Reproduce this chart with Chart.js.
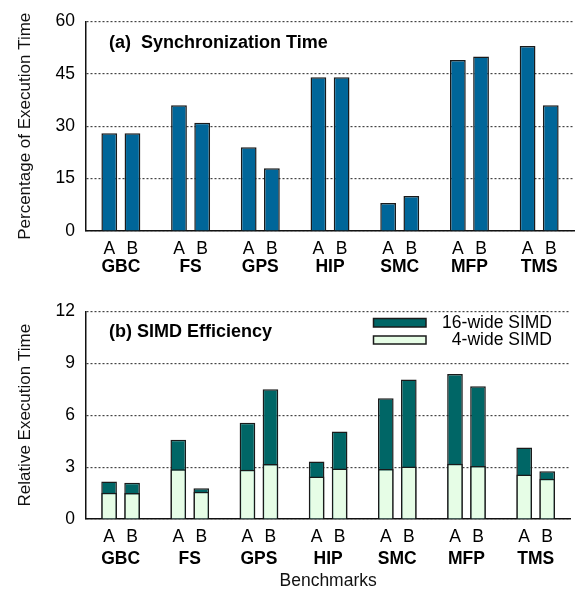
<!DOCTYPE html>
<html>
<head>
<meta charset="utf-8">
<script src="https://cdn.jsdelivr.net/npm/chart.js@4.4.0/dist/chart.umd.min.js"></script>
<style>
  html, body { margin: 0; padding: 0; background: #fff; }
  canvas { display: block; }
</style>
</head>
<body>
<canvas id="syncChart" width="584" height="290"></canvas>
<canvas id="simdChart" width="584" height="302"></canvas>
<script>
"use strict";

const benchmarks = ["GBC", "FS", "GPS", "HIP", "SMC", "MFP", "TMS"];

// (a) synchronization time, percent of execution time
const syncA = [28, 36, 24, 44, 8, 49, 53];
const syncB = [28, 31, 18, 44, 10, 50, 36];
const syncTicks = [0, 15, 30, 45, 60];

// (b) relative execution time, bars drawn over each other
const simd16A = [2.17, 4.59, 5.56, 3.33, 6.98, 8.39, 4.14];
const simd16B = [2.09, 1.78, 7.5, 5.06, 8.07, 7.68, 2.76];
const simd4A = [1.52, 2.87, 2.85, 2.46, 2.89, 3.2, 2.57];
const simd4B = [1.5, 1.57, 3.18, 2.92, 3.03, 3.07, 2.33];
const simdTicks = [0, 3, 6, 9, 12];

const FONT = '"Liberation Sans", Arial, Helvetica, sans-serif';
const SIZE = 17.5;
const BLUE = "#006699";
const TEAL = "#006666";
const MINT = "#e6fde6";
const EDGE = "#1a1a1a";

// draws the A / B marks under each bar, the panel title and the legend
const panelText = {
	id: "panelText",
	afterDraw: function (chart, args, opts) {
		const ctx = chart.ctx;
		const area = chart.chartArea;
		ctx.save();
		ctx.fillStyle = "#000";
		ctx.textBaseline = "middle";
		ctx.textAlign = "center";
		ctx.font = SIZE + "px " + FONT;
		chart.data.datasets.forEach(function (ds, i) {
			if (!ds.subLabel) {
				return;
			}
			chart.getDatasetMeta(i).data.forEach(function (bar) {
				ctx.fillText(ds.subLabel, bar.x, area.bottom + opts.subOffset);
			});
		});
		ctx.textAlign = "left";
		ctx.font = "bold 18px " + FONT;
		ctx.fillText(opts.title, opts.titleX, opts.titleY);
		if (opts.legend) {
			ctx.font = SIZE + "px " + FONT;
			ctx.textAlign = "right";
			ctx.lineWidth = 1.5;
			ctx.strokeStyle = EDGE;
			opts.legend.forEach(function (item) {
				ctx.fillStyle = item.color;
				ctx.fillRect(item.x, item.y, item.w, item.h);
				ctx.strokeRect(item.x, item.y, item.w, item.h);
				ctx.fillStyle = "#000";
				ctx.fillText(item.text, item.textX, item.y + item.h / 2);
			});
		}
		ctx.restore();
	}
};

function yScale(ticks, title, width) {
	return {
		stacked: false,
		min: ticks[0],
		max: ticks[ticks.length - 1],
		afterFit: function (scale) { scale.width = width; },
		ticks: {
			color: "#000",
			padding: 11,
			stepSize: ticks[1] - ticks[0],
			font: { family: FONT, size: SIZE }
		},
		grid: {
			display: true,
			drawOnChartArea: true,
			drawTicks: false,
			color: "#444",
			lineWidth: 1.2
		},
		border: {
			display: true,
			color: "#111",
			width: 1.5,
			dash: [2, 2]
		},
		title: {
			display: true,
			text: title,
			color: "#111",
			padding: 0,
			font: { family: FONT, size: 17 }
		}
	};
}

function xScale(height, padding, title) {
	return {
		stacked: true,
		afterFit: function (scale) { scale.height = height; },
		ticks: {
			color: "#000",
			padding: padding,
			font: { family: FONT, size: SIZE, weight: "bold" }
		},
		grid: { display: false, drawTicks: false },
		border: { display: true, color: "#111", width: 1.5 },
		title: {
			display: !!title,
			text: title || "",
			color: "#111",
			padding: 0,
			font: { family: FONT, size: SIZE }
		}
	};
}

const barLook = {
	borderColor: EDGE,
	borderWidth: 1.5,
	categoryPercentage: 0.665,
	barPercentage: 0.68
};

new Chart(document.getElementById("syncChart"), {
	type: "bar",
	data: {
		labels: benchmarks,
		datasets: [
			Object.assign({ label: "A", subLabel: "A", stack: "A", data: syncA, backgroundColor: BLUE }, barLook),
			Object.assign({ label: "B", subLabel: "B", stack: "B", data: syncB, backgroundColor: BLUE }, barLook)
		]
	},
	options: {
		responsive: false,
		animation: false,
		layout: { padding: { left: 15, right: 5, top: 15, bottom: 0 } },
		scales: {
			x: xScale(59, 26),
			y: yScale(syncTicks, "Percentage of Execution Time", 71)
		},
		plugins: {
			legend: { display: false },
			tooltip: { enabled: false },
			panelText: {
				subOffset: 18,
				title: "(a)  Synchronization Time",
				titleX: 109,
				titleY: 43
			}
		}
	},
	plugins: [panelText]
});

new Chart(document.getElementById("simdChart"), {
	type: "bar",
	data: {
		labels: benchmarks,
		datasets: [
			// light bars first so they are painted over the dark ones
			Object.assign({ label: "4-wide SIMD A", stack: "A", data: simd4A, backgroundColor: MINT }, barLook),
			Object.assign({ label: "4-wide SIMD B", stack: "B", data: simd4B, backgroundColor: MINT }, barLook),
			Object.assign({ label: "16-wide SIMD A", subLabel: "A", stack: "A", data: simd16A, backgroundColor: TEAL }, barLook),
			Object.assign({ label: "16-wide SIMD B", subLabel: "B", stack: "B", data: simd16B, backgroundColor: TEAL }, barLook)
		]
	},
	options: {
		responsive: false,
		animation: false,
		layout: { padding: { left: 15, right: 5, top: 13, bottom: 0 } },
		scales: {
			x: xScale(73, 29.5, "Benchmarks"),
			y: yScale(simdTicks, "Relative Execution Time", 71)
		},
		plugins: {
			legend: { display: false },
			tooltip: { enabled: false },
			panelText: {
				subOffset: 18,
				title: "(b) SIMD Efficiency",
				titleX: 109,
				titleY: 42,
				legend: [
					{ text: "16-wide SIMD", color: TEAL, x: 373.5, y: 28.5, w: 52.5, h: 8.5, textX: 552 },
					{ text: "4-wide SIMD", color: MINT, x: 373.5, y: 46, w: 52.5, h: 8, textX: 552 }
				]
			}
		}
	},
	plugins: [panelText]
});
</script>
</body>
</html>
